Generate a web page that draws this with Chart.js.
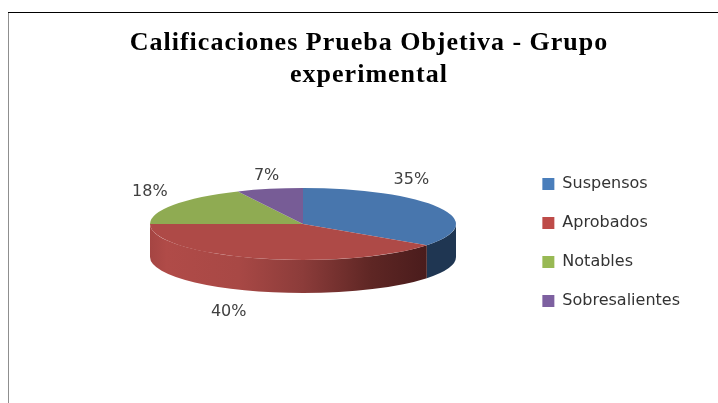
<!DOCTYPE html>
<html>
<head>
<meta charset="utf-8">
<script src="https://cdn.jsdelivr.net/npm/chart.js@4"></script>
<style>
html,body{margin:0;padding:0;background:#fff;width:718px;height:403px;overflow:hidden}
#wrap{position:absolute;left:0;top:0;width:738px;height:485px}
canvas{filter:blur(0.45px)}
</style>
</head>
<body>
<div id="wrap"><canvas id="c" width="738" height="485"></canvas></div>
<script>
const categories = ['Suspensos', 'Aprobados', 'Notables', 'Sobresalientes'];
const values = [35, 40, 18, 7];
const titleLines = ['Calificaciones Prueba Objetiva - Grupo', 'experimental'];
const sliceColors = ['#4876AD', '#AE4A47', '#8FAB52', '#775C96'];
const legendColors = ['#4A7EBB', '#BE4B48', '#98B954', '#7D60A0'];

const view = { cx: 303, cy: 224, rx: 153, ry: 36, depth: 33 };
const labelNudge = [[-28, -28], [-27, 21], [-24, -13], [-3, -13]];

const pie3d = {
  id: 'pie3d',
  beforeDraw(chart) {
    const c = chart.ctx;
    if (!chart.titleBlock.$spaced) {
      const t = chart.titleBlock, draw = t.draw;
      t.$spaced = true;
      t.draw = function () {
        c.save();
        c.letterSpacing = '1px';
        draw.call(t);
        c.restore();
      };
    }
    c.save();
    c.strokeStyle = '#8f8f8f'; c.lineWidth = 1;
    c.beginPath(); c.moveTo(8.5, 13); c.lineTo(8.5, 485); c.stroke();
    c.strokeStyle = '#000'; c.lineWidth = 1;
    c.beginPath(); c.moveTo(8, 12.5); c.lineTo(738, 12.5); c.stroke();
    c.restore();
  },
  beforeDatasetsDraw(chart) {
    const c = chart.ctx, arcs = chart.getDatasetMeta(0).data;
    const { cx, cy, rx, ry, depth } = view;
    c.save();
    arcs.forEach((arc, i) => {
      const a0 = Math.max(arc.startAngle, 0), a1 = Math.min(arc.endAngle, Math.PI);
      if (a1 <= a0) return;
      c.beginPath();
      c.ellipse(cx, cy, rx, ry, 0, a0, a1);
      c.ellipse(cx, cy + depth, rx, ry, 0, a1, a0, true);
      c.closePath();
      if (i === 0) {
        c.fillStyle = '#1F3652';
      } else {
        const g = c.createLinearGradient(cx - rx, 0, cx + rx * 0.81, 0);
        g.addColorStop(0, '#A54543');
        g.addColorStop(0.06, '#B04B48');
        g.addColorStop(0.32, '#A84845');
        g.addColorStop(0.55, '#8C3C3A');
        g.addColorStop(0.8, '#5E2624');
        g.addColorStop(1, '#4A1C1C');
        c.fillStyle = g;
      }
      c.fill();
    });
    c.restore();
    const a = arcs[0];
    c.save();
    c.translate(cx, cy);
    c.scale(rx / a.outerRadius, ry / a.outerRadius);
    c.translate(-a.x, -a.y);
  },
  afterDatasetsDraw(chart) {
    const c = chart.ctx;
    c.restore();
    const { cx, cy, rx, ry, depth } = view;
    const total = values.reduce((s, v) => s + v, 0);
    c.save();
    c.font = '16px "DejaVu Sans"';
    c.fillStyle = '#404040';
    c.textAlign = 'center';
    c.textBaseline = 'middle';
    chart.getDatasetMeta(0).data.forEach((arc, i) => {
      const m = (arc.startAngle + arc.endAngle) / 2;
      const drop = Math.sin(m) > 0 ? depth : 0;
      const x = cx + rx * Math.cos(m) + labelNudge[i][0];
      const y = cy + ry * Math.sin(m) + drop + labelNudge[i][1];
      c.fillText(Math.round(values[i] / total * 100) + '%', x, y);
    });
    c.restore();
  }
};

new Chart(document.getElementById('c'), {
  type: 'pie',
  data: {
    labels: categories,
    datasets: [{ data: values, backgroundColor: sliceColors, borderWidth: 0 }]
  },
  plugins: [pie3d],
  options: {
    responsive: false,
    animation: false,
    events: [],
    layout: { padding: { left: 48, right: 48, top: 0, bottom: 0 } },
    plugins: {
      tooltip: { enabled: false },
      title: {
        display: true,
        text: titleLines,
        color: '#000',
        font: { family: '"Liberation Serif"', size: 26, weight: 'bold', lineHeight: 1.23 },
        padding: { top: 27, bottom: 10 }
      },
      legend: {
        position: 'right',
        labels: {
          boxWidth: 12, boxHeight: 12, padding: 23,
          color: '#333',
          font: { family: '"DejaVu Sans"', size: 16 },
          generateLabels(chart) {
            return categories.map((t, i) => ({ text: t, fillStyle: legendColors[i], strokeStyle: legendColors[i], lineWidth: 0, index: i, fontColor: '#333' }));
          }
        }
      }
    }
  }
});
</script>
</body>
</html>
